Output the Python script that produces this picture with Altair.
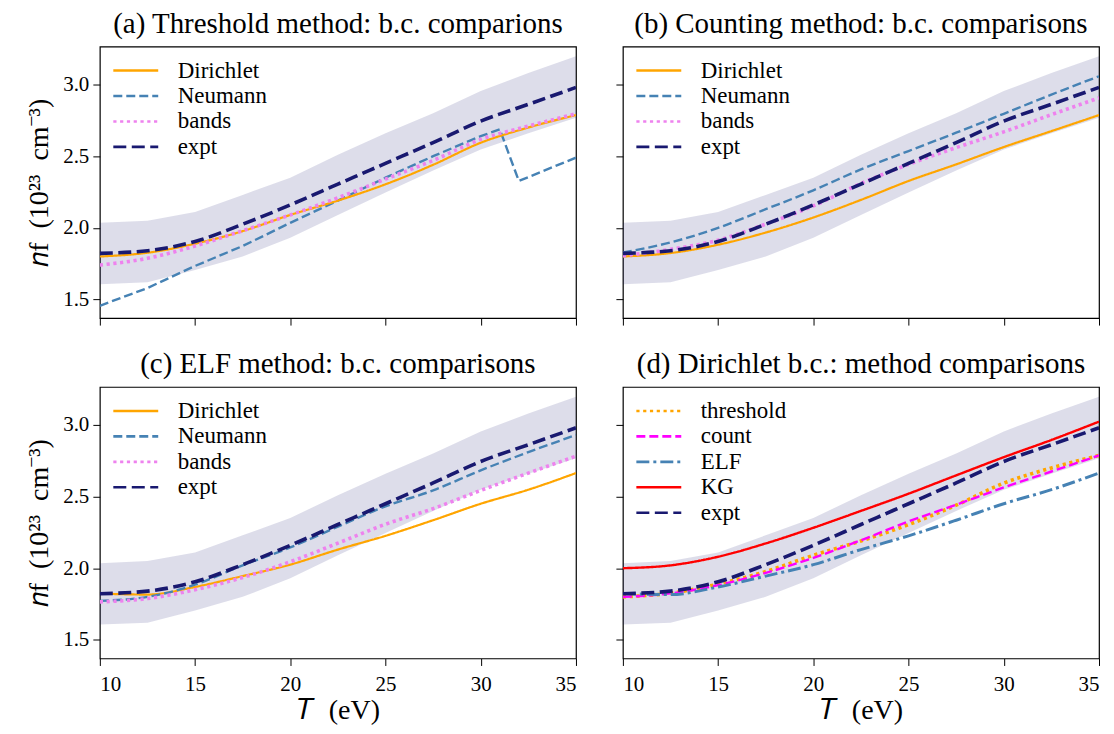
import altair as alt
import pandas as pd

FONT = "Liberation Serif"

# ---------------- data ----------------
T = [10, 12.5, 15, 17.5, 20, 22.5, 25, 27.5, 30, 32.5, 35]
T_neu_a = [10, 12.5, 15, 17.5, 20, 22.5, 25, 27.5, 30, 31, 32, 35]

expt = [1.822, 1.84, 1.905, 2.025, 2.16, 2.305, 2.45, 2.595, 2.745, 2.862, 2.98]
expt_hi = [2.035, 2.05, 2.11, 2.23, 2.35, 2.51, 2.66, 2.80, 2.955, 3.08, 3.197]
expt_lo = [1.607, 1.62, 1.705, 1.80, 1.93, 2.09, 2.246, 2.40, 2.547, 2.66, 2.768]

# (a) threshold method
thr_dir = [1.80, 1.826, 1.889, 1.977, 2.09, 2.19, 2.304, 2.44, 2.594, 2.70, 2.787]
thr_neu = [1.456, 1.58, 1.734, 1.873, 2.035, 2.19, 2.35, 2.50, 2.64, 2.687, 2.327, 2.49]
thr_bands = [1.74, 1.787, 1.873, 1.98, 2.09, 2.21, 2.34, 2.47, 2.617, 2.71, 2.796]

# (b) counting method
cnt_dir = [1.80, 1.824, 1.882, 1.967, 2.072, 2.195, 2.327, 2.443, 2.564, 2.675, 2.787]
cnt_neu = [1.828, 1.898, 2.0, 2.13, 2.262, 2.408, 2.536, 2.664, 2.796, 2.93, 3.058]
cnt_bands = [1.805, 1.85, 1.914, 2.026, 2.153, 2.31, 2.443, 2.56, 2.67, 2.79, 2.907]

# (c) ELF method
elf_dir = [1.823, 1.816, 1.869, 1.945, 2.025, 2.13, 2.226, 2.335, 2.45, 2.548, 2.664]
elf_neu = [1.772, 1.80, 1.885, 2.02, 2.145, 2.29, 2.432, 2.543, 2.683, 2.81, 2.93]
elf_bands = [1.765, 1.788, 1.85, 1.935, 2.045, 2.175, 2.307, 2.416, 2.543, 2.664, 2.782]

# (d) KG
kg = [2.0, 2.02, 2.08, 2.173, 2.282, 2.40, 2.52, 2.648, 2.775, 2.895, 3.023]

titles = [
    "(a) Threshold method: b.c. comparions",
    "(b) Counting method: b.c. comparisons",
    "(c) ELF method: b.c. comparisons",
    "(d) Dirichlet b.c.: method comparisons",
]

# styles: name -> (color, dash, width)
STY = {
    "Dirichlet": ("#FFA500", [1, 0], 2.2),
    "Neumann": ("#4682B4", [9, 4], 2.4),
    "bands": ("#EE82EE", [3.2, 3.6], 3.6),
    "expt": ("#191970", [13, 5.5], 3.6),
    "threshold": ("#FFA500", [3.2, 3.6], 3.6),
    "count": ("#FF00FF", [9, 4], 2.4),
    "ELF": ("#4682B4", [13, 4, 3, 4], 3.0),
    "KG": ("#FF0000", [1, 0], 2.4),
}

band_df = pd.DataFrame({"T": T, "lo": expt_lo, "hi": expt_hi})


def panel(series, title, xlab, ylab, linear=()):
    rows = []
    for name, tt, vv in series:
        for t, v in zip(tt, vv):
            rows.append({"T": t, "n": v, "series": name, "w": STY[name][2],
                         "lin": name in linear})
    df = pd.DataFrame(rows)
    names = [s[0] for s in series]
    colors = [STY[n][0] for n in names]
    dashes = [STY[n][1] for n in names]

    xscale = alt.Scale(domain=[10, 35], nice=False)
    yscale = alt.Scale(domain=[1.37, 3.265], nice=False, zero=False)
    xaxis = alt.Axis(
        values=[10, 15, 20, 25, 30, 35], labels=xlab,
        title="𝑇\u2002(eV)" if xlab else None,
        tickSize=7, tickColor="black", domain=False, grid=False,
        labelFont=FONT, labelFontSize=21, labelColor="black", labelPadding=8,
        titleFont=FONT, titleFontSize=28, titleFontWeight="normal",
        titleColor="black", titlePadding=2,
    )
    yaxis = alt.Axis(
        values=[1.5, 2.0, 2.5, 3.0], format=".1f", labels=ylab,
        title="𝑛f\u2002(10²³\u2002cm⁻³)" if ylab else None,
        tickSize=7, tickColor="black", domain=False, grid=False,
        labelFont=FONT, labelFontSize=21, labelColor="black", labelPadding=4,
        titleFont=FONT, titleFontSize=28, titleFontWeight="normal",
        titleColor="black", titlePadding=9,
    )
    leg = alt.Legend(
        title=None, orient="none", legendX=23, legendY=11, padding=0,
        symbolType="M-2,0H2", symbolSize=506, symbolStrokeWidth=2.6,
        labelFont=FONT, labelFontSize=23, labelColor="black",
        labelOffset=29, rowPadding=0.5, labelLimit=300,
    )
    band = alt.Chart(band_df).mark_area(color="#191970", opacity=0.15).encode(
        x=alt.X("T:Q", scale=xscale, axis=xaxis),
        y=alt.Y("lo:Q", scale=yscale, axis=yaxis),
        y2="hi:Q",
    )
    enc = dict(
        x=alt.X("T:Q", scale=xscale, axis=xaxis),
        y=alt.Y("n:Q", scale=yscale, axis=yaxis),
        color=alt.Color("series:N", scale=alt.Scale(domain=names, range=colors),
                        sort=names, legend=leg),
        strokeDash=alt.StrokeDash("series:N", scale=alt.Scale(domain=names, range=dashes),
                                  sort=names, legend=leg),
        strokeWidth=alt.StrokeWidth("w:Q", scale=None, legend=None),
    )
    smooth = alt.Chart(df).mark_line(clip=True, interpolate="monotone").encode(
        **enc).transform_filter("!datum.lin")
    layers = [band, smooth]
    if linear:
        straight = alt.Chart(df).mark_line(clip=True, interpolate="linear").encode(
            **enc).transform_filter("datum.lin")
        layers = [band, straight, smooth]
    return alt.layer(*layers).properties(
        width=477, height=272,
        title=alt.TitleParams(title, font=FONT, fontSize=29, fontWeight="normal",
                              color="black", anchor="middle", offset=8),
    )


pa = panel([("Dirichlet", T, thr_dir), ("Neumann", T_neu_a, thr_neu),
            ("bands", T, thr_bands), ("expt", T, expt)], titles[0], False, True,
           linear=("Neumann",))
pb = panel([("Dirichlet", T, cnt_dir), ("Neumann", T, cnt_neu),
            ("bands", T, cnt_bands), ("expt", T, expt)], titles[1], False, False)
pc = panel([("Dirichlet", T, elf_dir), ("Neumann", T, elf_neu),
            ("bands", T, elf_bands), ("expt", T, expt)], titles[2], True, True)
pd_ = panel([("threshold", T, thr_dir), ("count", T, cnt_dir), ("ELF", T, elf_dir),
             ("KG", T, kg), ("expt", T, expt)], titles[3], True, False)

chart = alt.concat(
    pa, pb, pc, pd_, columns=2,
    spacing=alt.RowColnumber(row=69, column=47), bounds="flush",
).resolve_scale(
    color="independent", strokeDash="independent"
).resolve_legend(
    color="independent", strokeDash="independent"
).properties(
    background="white",
    padding={"left": 17, "top": 0, "right": 5, "bottom": 5},
).configure_view(
    stroke="black", strokeWidth=1.2
)

chart.save("out.html", embed_options={"renderer": "svg", "actions": False})
